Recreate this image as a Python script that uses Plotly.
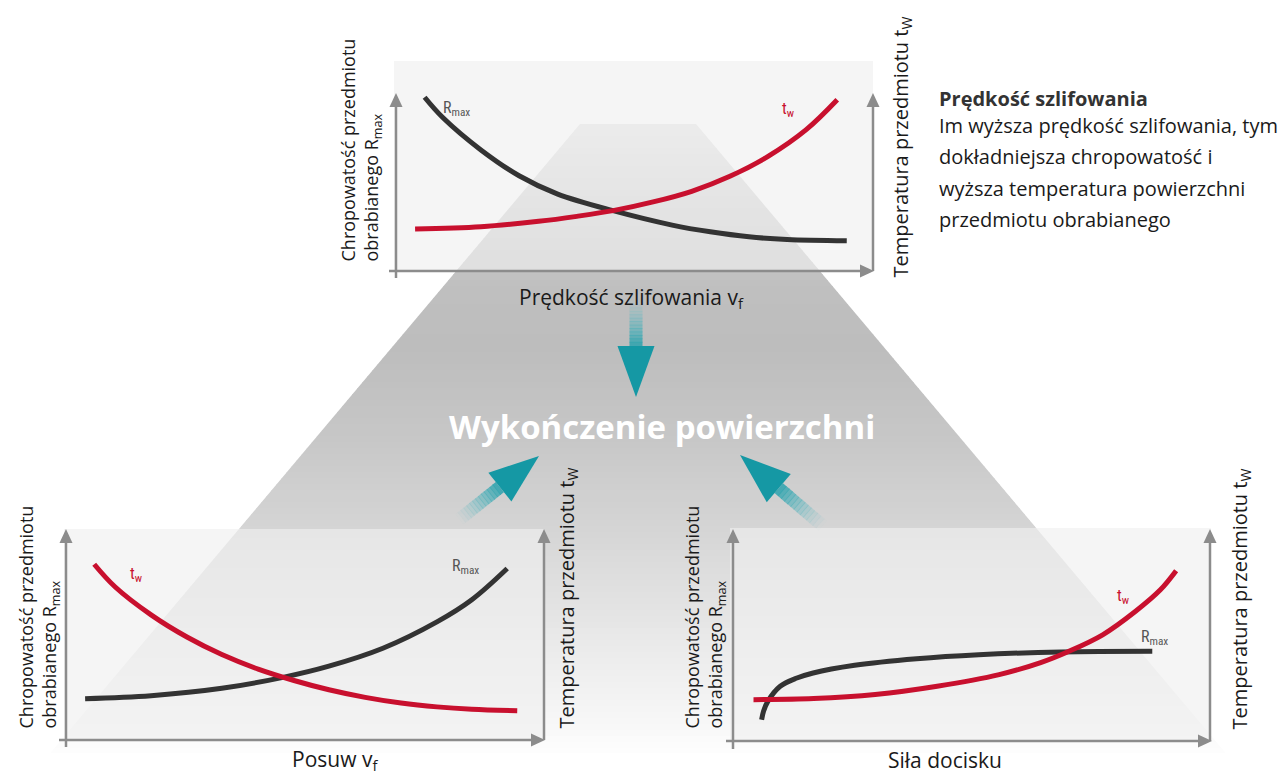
import math
import plotly.graph_objects as go

W, H = 1288, 776

# ---------------- data (axis units 0..10) ----------------
# Chart 1: grinding speed
speed_rmax_x = [0.60, 0.98, 1.78, 2.58, 3.39, 4.55, 5.79, 6.59, 7.40, 8.20, 9.45]
speed_rmax_y = [9.76, 8.62, 6.80, 5.35, 4.32, 3.39, 2.58, 2.20, 1.92, 1.77, 1.70]
speed_tw_x = [0.40, 1.78, 2.99, 3.79, 4.55, 5.39, 6.20, 7.00, 7.80, 8.60, 9.25]
speed_tw_y = [2.36, 2.49, 2.79, 3.07, 3.39, 3.88, 4.48, 5.32, 6.44, 7.94, 9.62]

# Chart 2: feed
feed_rmax_x = [0.40, 1.78, 3.26, 4.54, 5.50, 6.63, 7.76, 8.49, 9.23]
feed_rmax_y = [1.96, 2.10, 2.45, 2.97, 3.50, 4.35, 5.60, 6.65, 8.13]
feed_tw_x = [0.59, 1.03, 1.78, 2.53, 3.26, 4.02, 4.77, 5.50, 6.26, 7.01, 7.76, 8.49, 9.44]
feed_tw_y = [8.33, 7.25, 5.93, 4.88, 4.05, 3.36, 2.82, 2.38, 2.02, 1.75, 1.57, 1.46, 1.39]

# Chart 3: pressure force
force_rmax_x = [0.60, 0.64, 0.73, 0.99, 1.34, 1.68, 2.55, 3.85, 5.15, 6.88, 8.79]
force_rmax_y = [1.00, 1.40, 1.87, 2.58, 2.97, 3.21, 3.57, 3.88, 4.07, 4.20, 4.23]
force_tw_x = [0.43, 1.69, 2.98, 4.28, 5.58, 6.45, 7.01, 7.75, 8.44, 8.96, 9.29]
force_tw_y = [1.95, 2.00, 2.19, 2.58, 3.13, 3.70, 4.20, 5.01, 6.12, 7.13, 8.03]

chart_x_titles = ["Prędkość szlifowania v<sub>f</sub>", "Posuw v<sub>f</sub>", "Siła docisku"]
y_left_title = "Chropowatość przedmiotu<br>obrabianego R<sub>max</sub>"
y_right_title = "Temperatura przedmiotu t<sub>W</sub>"
center_title = "Wykończenie powierzchni"
info_title = "Prędkość szlifowania"
info_lines = ["Im wyższa prędkość szlifowania, tym",
              "dokładniejsza chropowatość i",
              "wyższa temperatura powierzchni",
              "przedmiotu obrabianego"]

# ---------------- helpers ----------------
def px(x):
    return x / W

def py(y):
    return 1 - y / H

def path(points):
    return "M " + " L ".join(f"{px(x):.5f},{py(y):.5f}" for x, y in points) + " Z"

FONT = "Open Sans, Noto Sans, sans-serif"
DARK = "#333333"
RED = "#c8102e"
AXC = "#8c8c8c"
TEAL = (21, 152, 164)

shapes = []

# ---- gray trapezoid with vertical gradient (bands) ----
stops = [(115, 228), (200, 207), (280, 191), (340, 189), (430, 199),
         (520, 213), (620, 231), (700, 245), (745, 253)]

def gval(y):
    for (y0, g0), (y1, g1) in zip(stops[:-1], stops[1:]):
        if y0 <= y <= y1:
            return g0 + (g1 - g0) * (y - y0) / (y1 - y0)
    return stops[-1][1]

cx, top, hw0, slope = 630, 116, 58, 0.842
def hw(y):
    return hw0 + slope * (y - top)

y = top
step = 6
while y < 745:
    ya, yb = y, min(y + step + 0.8, 745)
    g = int(round(gval(y + step / 2)))
    shapes.append(dict(type="path", layer="below", xref="paper", yref="paper",
                       path=path([(cx - hw(ya), ya), (cx + hw(ya), ya),
                                  (cx + hw(yb), yb), (cx - hw(yb), yb)]),
                       fillcolor=f"rgb({g},{g},{g})", line=dict(width=0)))
    y += step

# ---- chart boxes ----
boxes = [(386, 53, 865, 263), (56, 521, 536, 732), (722, 520, 1203, 733)]
for x0, y0, x1, y1 in boxes:
    shapes.append(dict(type="rect", layer="below", xref="paper", yref="paper",
                       x0=px(x0), x1=px(x1), y0=py(y1), y1=py(y0),
                       fillcolor="rgba(240,240,240,0.64)", line=dict(width=0)))

# ---- axis arrows ----
def vline_arrow(x, ybot, ytip):
    shapes.append(dict(type="line", layer="below", xref="paper", yref="paper",
                       x0=px(x), x1=px(x), y0=py(ybot), y1=py(ytip + 12),
                       line=dict(color=AXC, width=2.5)))
    shapes.append(dict(type="path", layer="below", xref="paper", yref="paper",
                       path=path([(x - 6.5, ytip + 14), (x + 6.5, ytip + 14), (x, ytip)]),
                       fillcolor=AXC, line=dict(width=0)))

def hline_arrow(y, xleft, xtip):
    shapes.append(dict(type="line", layer="below", xref="paper", yref="paper",
                       x0=px(xleft), x1=px(xtip - 12), y0=py(y), y1=py(y),
                       line=dict(color=AXC, width=2.5)))
    shapes.append(dict(type="path", layer="below", xref="paper", yref="paper",
                       path=path([(xtip - 14, y - 6.5), (xtip - 14, y + 6.5), (xtip, y)]),
                       fillcolor=AXC, line=dict(width=0)))

# chart 1
vline_arrow(388, 270, 85); hline_arrow(263, 381, 866); vline_arrow(865, 263, 85)
# chart 2
vline_arrow(58, 739, 521); hline_arrow(732, 51, 537); vline_arrow(536, 732, 521)
# chart 3
vline_arrow(725, 741, 521); hline_arrow(733, 718, 1204); vline_arrow(1202, 733, 521)

# ---- teal arrows ----
def teal_arrow(tip, direction, head_len, head_hw, shaft_hw, shaft_len):
    dx, dy = direction
    n = math.hypot(dx, dy)
    ux, uy = dx / n, dy / n
    nx, ny = -uy, ux
    bx, by = tip[0] - ux * head_len, tip[1] - uy * head_len
    N = 14
    for i in range(N):
        s0 = shaft_len * i / N
        s1 = min(shaft_len * (i + 1) / N + 0.8, shaft_len)
        a = 0.9 * (1 - (i + 0.5) / N) ** 1.1
        p0 = (bx - ux * s0, by - uy * s0)
        p1 = (bx - ux * s1, by - uy * s1)
        pts = [(p0[0] + nx * shaft_hw, p0[1] + ny * shaft_hw),
               (p1[0] + nx * shaft_hw, p1[1] + ny * shaft_hw),
               (p1[0] - nx * shaft_hw, p1[1] - ny * shaft_hw),
               (p0[0] - nx * shaft_hw, p0[1] - ny * shaft_hw)]
        lighten = 0.1 + (i + 0.5) / N * 0.35
        r = int(TEAL[0] + (255 - TEAL[0]) * lighten)
        g = int(TEAL[1] + (255 - TEAL[1]) * lighten)
        b = int(TEAL[2] + (255 - TEAL[2]) * lighten)
        shapes.append(dict(type="path", layer="below", xref="paper", yref="paper",
                           path=path(pts), fillcolor=f"rgba({r},{g},{b},{a:.3f})",
                           line=dict(width=0)))
    head = [(bx + nx * head_hw, by + ny * head_hw), tip, (bx - nx * head_hw, by - ny * head_hw)]
    shapes.append(dict(type="path", layer="below", xref="paper", yref="paper",
                       path=path(head), fillcolor=f"rgb({TEAL[0]},{TEAL[1]},{TEAL[2]})",
                       line=dict(width=0)))

teal_arrow((628, 389), (0, 1), 51, 18.5, 6.5, 48)
teal_arrow((531, 448), (0.783, -0.623), 50, 18.5, 6.5, 52)
teal_arrow((732, 447), (-0.76, -0.65), 51, 18.5, 6.5, 58)

# ---- small black corner mark ----
shapes.append(dict(type="path", layer="above", xref="paper", yref="paper",
                   path=path([(1276, 0), (1288, 0), (1288, 7), (1282, 3)]),
                   fillcolor="#111111", line=dict(width=0)))

# ---------------- traces ----------------
fig = go.Figure()

def curve(x, y, color, ax):
    fig.add_trace(go.Scatter(x=x, y=y, mode="lines", xaxis=ax[0], yaxis=ax[1],
                             line=dict(color=color, width=5, shape="spline", smoothing=1.0),
                             hoverinfo="skip", showlegend=False))

curve(speed_rmax_x, speed_rmax_y, DARK, ("x", "y"))
curve(speed_tw_x, speed_tw_y, RED, ("x", "y"))
curve(feed_rmax_x, feed_rmax_y, DARK, ("x2", "y2"))
curve(feed_tw_x, feed_tw_y, RED, ("x2", "y2"))
curve(force_rmax_x, force_rmax_y, DARK, ("x3", "y3"))
curve(force_tw_x, force_tw_y, RED, ("x3", "y3"))

# ---------------- annotations ----------------
ann = []

def text(x, y, t, size, color="#1a1a1a", xanchor="center", yanchor="middle",
         angle=0, family=FONT, align="center"):
    ann.append(dict(x=px(x), y=py(y), xref="paper", yref="paper", text=t,
                    showarrow=False, xanchor=xanchor, yanchor=yanchor,
                    textangle=angle, align=align,
                    font=dict(size=size, color=color, family=family)))

LBL = "Liberation Sans Narrow, Roboto Condensed, Roboto, sans-serif"
# curve labels
text(448, 101, "R<sub>max</sub>", 16, "#555555", family=LBL)
text(780, 102, "t<sub>w</sub>", 16, RED, family=LBL)
text(128, 566, "t<sub>w</sub>", 16, RED, family=LBL)
text(457, 558, "R<sub>max</sub>", 16, "#555555", family=LBL)
text(1115, 588, "t<sub>w</sub>", 16, RED, family=LBL)
text(1146, 629, "R<sub>max</sub>", 16, "#555555", family=LBL)

# axis titles
text(623, 290, chart_x_titles[0], 21)
text(327, 752, chart_x_titles[1], 21)
text(937, 752, chart_x_titles[2], 21)

text(353, 256, y_left_title, 18, angle=-90, yanchor="bottom", align="left")
text(30, 723, y_left_title, 18, angle=-90, yanchor="bottom", align="left")
text(696, 723, y_left_title, 18, angle=-90, yanchor="bottom", align="left")

text(893, 272, y_right_title, 20, angle=-90, yanchor="bottom")
text(559, 723, y_right_title, 20, angle=-90, yanchor="bottom")
text(1232, 724, y_right_title, 20, angle=-90, yanchor="bottom")

# center title
text(654, 418, f"<b>{center_title}</b>", 33, "#ffffff")

# info block
text(929, 90, f"<b>{info_title}</b>", 20, "#333333", xanchor="left")
for i, line in enumerate(info_lines):
    text(929, 117 + 31.5 * i, line, 20, "#1a1a1a", xanchor="left")

# ---------------- layout ----------------
def ax(domain):
    return dict(domain=domain, range=[0, 10], visible=False, fixedrange=True)

fig.update_layout(
    width=W, height=H,
    margin=dict(l=0, r=0, t=0, b=0),
    paper_bgcolor="#ffffff", plot_bgcolor="rgba(0,0,0,0)",
    showlegend=False,
    xaxis=ax([px(388), px(865)]), yaxis=ax([py(263), py(85)]),
    xaxis2=ax([px(58), px(536)]), yaxis2=ax([py(732), py(521)]),
    xaxis3=ax([px(725), px(1202)]), yaxis3=ax([py(733), py(521)]),
    shapes=shapes, annotations=ann,
)

fig.write_html("out.html")
